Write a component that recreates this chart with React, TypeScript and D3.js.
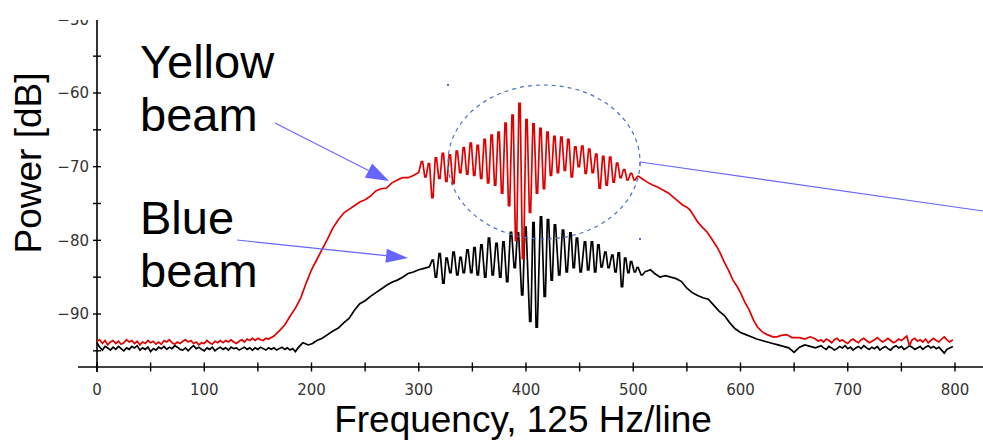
import React from 'react';
import * as d3 from 'd3';

type Pt = [number, number];

// Axis ticks
const X_TICKS = [0, 100, 200, 300, 400, 500, 600, 700, 800];
const X_MINOR = [50, 150, 250, 350, 450, 550, 650, 750];
const Y_TICKS = [-50, -60, -70, -80, -90];
const Y_MINOR = [-55, -65, -75, -85, -95];

// Red ("Yellow beam") spectrum, [frequency line, dB]
const redFloorLeft: Pt[] = [
  [0, -93.7], [2.5, -93.5], [5, -94.0], [7.5, -93.6], [10, -94.2], [12.5, -93.8], [15, -93.6], [17.5, -94.0],
  [20, -93.7], [22.5, -94.1], [25, -93.9], [27.5, -93.5], [30, -93.8], [32.5, -93.6], [35, -94.0], [37.5, -93.7],
  [40, -94.2], [42.5, -93.8], [45, -94.0], [47.5, -93.6], [50, -93.9], [52.5, -93.7], [55, -94.1], [57.5, -93.8],
  [60, -94.1], [62.5, -93.6], [65, -93.8], [67.5, -93.5], [70, -93.9], [72.5, -94.1], [75, -93.8], [77.5, -94.0],
  [80, -93.7], [82.5, -93.5], [85, -93.8], [87.5, -93.6], [90, -94.0], [92.5, -93.8], [95, -94.2], [97.5, -93.9],
  [100, -94.0], [102.5, -93.6], [105, -93.9], [107.5, -94.1], [110, -93.7], [112.5, -93.9], [115, -93.6],
  [117.5, -93.9], [120, -93.6], [122.5, -93.8], [125, -93.5], [127.5, -93.8], [130, -94.0], [132.5, -93.7],
  [135, -93.5], [137.5, -93.8], [140, -93.4], [142.5, -93.6], [145, -93.3], [147.5, -93.6], [150, -93.3],
  [152.5, -93.5], [155, -93.6], [157.5, -93.3],
];
const redRise: Pt[] = [
  [160, -93.4], [165, -93.0], [170, -92.3], [175, -91.5], [180, -90.3], [185, -89.2], [190, -87.8],
  [195, -85.8], [200, -84.0], [205, -82.6], [210, -81.2], [215, -79.8], [220, -78.3], [225, -77.2],
  [230, -76.3], [235, -75.8], [240, -75.3], [245, -74.8], [250, -74.5], [255, -74.0], [260, -73.3],
  [265, -73.0], [270, -72.9], [275, -72.2], [280, -71.8], [285, -71.5], [290, -71.5], [295, -71.2], [300, -70.8],
];
const redOsc: Pt[] = [
  [303, -69.3], [306.25, -71.4], [309.5, -69.6], [312.75, -74.2], [316, -68.8], [319.25, -71.6],
  [322.5, -68.2], [325.75, -72.0], [329, -68.4], [332.25, -72.3], [335.5, -67.9], [338.75, -70.8],
  [342, -67.4], [345.25, -71.0], [348.5, -66.8], [351.75, -71.2], [355, -67.1], [358.25, -71.6],
  [361.5, -66.3], [364.75, -72.2], [368, -65.7], [371.25, -72.5], [374.5, -65.3], [377.75, -73.6],
  [381, -64.1], [384.25, -75.3], [387.5, -63.0], [390.75, -80.0], [394, -61.4], [397.25, -82.5],
  [400.5, -63.6], [403.75, -76.2], [407, -64.2], [410.25, -73.6], [413.5, -64.8], [416.75, -73.0],
  [420, -65.3], [423.25, -71.2], [426.5, -65.9], [429.75, -70.8], [433, -66.0], [436.25, -70.5],
  [439.5, -66.3], [442.75, -71.4], [446, -67.3], [449.25, -70.0], [452.5, -67.2], [455.75, -70.9],
  [459, -67.6], [462.25, -70.8], [465.5, -68.3], [468.75, -72.9], [472, -68.6], [475.25, -72.5],
  [478.5, -68.7], [481.75, -72.1], [485, -69.5], [488.25, -71.5], [491.5, -70.4], [494.75, -71.8],
  [498, -70.9], [501.25, -71.8], [504.5, -71.3],
];
const redFall: Pt[] = [
  [508, -71.6], [513, -72.1], [518, -72.5], [523, -72.8], [528, -73.2], [533, -73.6], [537, -74.1],
  [542, -74.7], [546, -75.2], [550, -75.5], [553, -75.9], [557, -76.8], [560, -77.5], [565, -78.3],
  [569, -78.9], [574, -80.0], [578, -80.9], [581, -81.7], [585, -83.0], [589, -84.1], [593, -85.4],
  [597, -86.3], [600, -87.1], [604, -88.4], [608, -89.4], [612, -90.8], [616, -91.8], [620, -92.4],
  [625, -92.8], [630, -93.1], [634, -93.1], [638, -92.9], [643, -92.8], [648, -93.2], [655, -93.2],
  [660, -93.4], [665, -93.1],
];
const redFloorRight: Pt[] = [
  [670, -93.4], [672.5, -93.7], [675, -93.5], [677.5, -93.8], [680, -93.4], [682.5, -93.6], [685, -93.9],
  [687.5, -93.5], [690, -93.3], [692.5, -93.7], [695, -93.5], [697.5, -93.8], [700, -94.0], [702.5, -93.6],
  [705, -93.4], [707.5, -93.7], [710, -93.9], [712.5, -93.5], [715, -93.3], [717.5, -93.6], [720, -93.9],
  [722.5, -93.7], [725, -93.5], [727.5, -93.2], [730, -93.5], [732.5, -93.8], [735, -93.6], [737.5, -93.3],
  [740, -93.6], [742.5, -93.9], [745, -93.7], [747.5, -93.4], [750, -93.6], [752.5, -93.3], [755, -93.0],
  [757.5, -94.3], [760, -93.5], [762.5, -93.3], [765, -93.7], [767.5, -93.5], [770, -93.8], [772.5, -93.4],
  [775, -93.9], [777.5, -93.6], [780, -93.3], [782.5, -93.6], [785, -93.8], [787.5, -93.4], [790, -93.1],
  [792.5, -93.5], [795, -93.8], [798, -93.5],
];

// Black ("Blue beam") spectrum
const blackFloorLeft: Pt[] = [
  [0, -93.9], [2.5, -94.5], [5, -94.9], [7.5, -94.4], [10, -94.6], [12.5, -94.9], [15, -94.5], [17.5, -94.8],
  [20, -94.4], [22.5, -94.7], [25, -95.0], [27.5, -94.6], [30, -94.8], [32.5, -94.4], [35, -94.6], [37.5, -94.3],
  [40, -94.9], [42.5, -94.6], [45, -94.8], [47.5, -94.5], [50, -95.1], [52.5, -94.7], [55, -94.9], [57.5, -94.5],
  [60, -94.7], [62.5, -94.4], [65, -94.8], [67.5, -94.5], [70, -94.7], [72.5, -94.3], [75, -94.5], [77.5, -94.8],
  [80, -94.9], [82.5, -94.6], [85, -95.0], [87.5, -94.6], [90, -94.3], [92.5, -94.7], [95, -94.5], [97.5, -94.8],
  [100, -95.0], [102.5, -94.6], [105, -94.8], [107.5, -94.5], [110, -95.0], [112.5, -94.7], [115, -94.5],
  [117.5, -94.8], [120, -94.6], [122.5, -94.9], [125, -94.5], [127.5, -94.7], [130, -94.6], [132.5, -94.9],
  [135, -94.7], [137.5, -94.5], [140, -94.8], [142.5, -94.6], [145, -94.9], [147.5, -94.6], [150, -94.8],
  [152.5, -94.5], [155, -94.7], [157.5, -94.9], [160, -94.6], [162.5, -94.8], [165, -94.6], [167.5, -94.9],
  [170, -94.7], [172.5, -94.5], [175, -94.8], [177.5, -94.6], [180, -94.9], [182.5, -94.7], [185, -95.1],
  [187.5, -94.6], [190, -94.2],
];
const blackRise: Pt[] = [
  [192, -93.9], [197, -94.2], [201, -94.0], [205, -93.6], [210, -93.3], [215, -92.8], [220, -92.3],
  [225, -91.9], [230, -91.2], [235, -90.6], [240, -89.5], [245, -88.6], [250, -88.2], [255, -87.6],
  [260, -87.1], [265, -86.6], [270, -86.1], [275, -85.7], [280, -85.4], [285, -85.0], [290, -84.5],
  [295, -84.3], [300, -84.0], [305, -83.8], [310, -83.6],
];
const blackOsc: Pt[] = [
  [313, -82.7], [316, -85.0], [319.5, -81.8], [323, -85.8], [326, -82.4], [329.5, -84.4], [332.5, -81.6],
  [336, -84.7], [339, -82.3], [342, -84.4], [345.5, -81.3], [349, -84.4], [352, -81.0], [355, -84.7],
  [358.5, -80.6], [362, -85.0], [365.5, -79.7], [369, -84.7], [372.5, -80.4], [376, -85.0], [379, -80.2],
  [382.5, -85.6], [386, -78.9], [389.5, -83.7], [392.5, -79.0], [396.5, -87.4], [399.5, -78.2],
  [404, -91.0], [407, -77.6], [410, -91.8], [414, -76.8], [417.5, -87.6], [420.5, -77.2], [424, -85.4],
  [427, -77.9], [431, -84.7], [434.5, -78.6], [438, -84.3], [441.5, -79.0], [444.5, -83.7], [447.5, -79.7],
  [451, -84.3], [455, -80.2], [458, -84.0], [461.5, -80.2], [464.5, -84.3], [467.5, -80.6], [470.5, -83.6],
  [474, -81.6], [477, -83.7], [480.5, -82.0], [483.5, -84.3], [486.5, -81.7], [489.5, -86.3], [492.5, -82.4],
  [495.5, -84.4], [498, -82.9], [501.5, -84.3], [504, -83.7], [508, -84.7], [512, -84.2],
];
const blackFall: Pt[] = [
  [516, -84.0], [520, -84.5], [525, -85.0], [530, -84.8], [535, -85.0], [540, -85.2], [545, -85.6],
  [550, -86.5], [555, -87.1], [560, -87.5], [565, -87.8], [570, -88.0], [575, -88.8], [580, -89.6],
  [585, -90.2], [590, -91.2], [595, -92.0], [600, -92.5], [605, -92.8], [610, -93.1], [615, -93.4],
  [620, -93.6], [625, -93.8], [630, -94.0], [635, -94.2], [640, -94.4], [645, -94.6], [650, -95.2],
  [655, -94.5], [660, -94.2], [665, -94.4], [670, -94.6],
];
const blackFloorRight: Pt[] = [
  [675, -94.3], [677.5, -94.6], [680, -94.8], [682.5, -94.4], [685, -94.6], [687.5, -94.9], [690, -94.7],
  [692.5, -94.4], [695, -94.6], [697.5, -94.3], [700, -94.7], [702.5, -94.5], [705, -94.9], [707.5, -94.6],
  [710, -94.4], [712.5, -94.7], [715, -94.3], [717.5, -94.6], [720, -94.8], [722.5, -94.5], [725, -94.7],
  [727.5, -94.4], [730, -94.9], [732.5, -94.6], [735, -94.4], [737.5, -94.7], [740, -94.9], [742.5, -94.5],
  [745, -94.3], [747.5, -94.6], [750, -94.4], [752.5, -94.8], [755, -94.6], [757.5, -94.3], [760, -94.5],
  [762.5, -94.8], [765, -94.6], [767.5, -94.4], [770, -94.8], [772.5, -94.5], [775, -94.3], [777.5, -94.6],
  [780, -94.4], [782.5, -94.7], [785, -94.5], [787.5, -94.9], [790, -95.3], [792.5, -94.8], [795, -94.6],
  [798, -94.4],
];

const W = 983;
const H = 440;
const ANNOT = '#6666ff';
const ELLIPSE = '#4a72c0';

function arrowHead(x1: number, y1: number, x2: number, y2: number, len: number, half: number) {
  const dx = x2 - x1, dy = y2 - y1;
  const d = Math.hypot(dx, dy);
  const ux = dx / d, uy = dy / d;
  const bx = x2 - ux * len, by = y2 - uy * len;
  const nx = -uy, ny = ux;
  return {
    bx, by,
    pts: `${x2},${y2} ${bx + nx * half},${by + ny * half} ${bx - nx * half},${by - ny * half}`,
  };
}

function Spectrum({ left, rise, osc, fall, right, color, x, y }: {
  left: Pt[]; rise: Pt[]; osc: Pt[]; fall: Pt[]; right: Pt[]; color: string;
  x: d3.ScaleLinear<number, number>; y: d3.ScaleLinear<number, number>;
}) {
  const line = d3.line<Pt>().x(d => x(d[0])).y(d => y(d[1]));
  // each oscillation extreme is held for about one spectral line
  const held: Pt[] = osc.flatMap(d => [[d[0] - 0.6, d[1]], [d[0] + 0.6, d[1]]] as Pt[]);
  const all: Pt[] = [...left, ...rise, ...held, ...fall, ...right];
  return (
    <path d={line(all) || ''} fill="none" stroke={color} strokeWidth={1.7}
      strokeLinejoin="miter" strokeMiterlimit={2} />
  );
}

export default function App() {
  const x = d3.scaleLinear().domain([0, 800]).range([97, 955]);
  const y = d3.scaleLinear().domain([-60, -90]).range([93, 314]);
  const axisY = 367;
  const axisX = 97;

  const a1 = arrowHead(275, 123, 389, 181, 23, 8);
  const a2 = arrowHead(237, 240, 408, 258, 22, 7);

  return (
    <svg width={W} height={H} style={{ position: 'absolute', left: 0, top: 0, background: '#fff' }}
      fontFamily="'Liberation Sans', Arial, sans-serif">
      <defs>
        <clipPath id="plotTop"><rect x={0} y={20} width={W} height={H} /></clipPath>
      </defs>
      <rect x={0} y={0} width={W} height={H} fill="#fff" />
      <g clipPath="url(#plotTop)">
        <line x1={axisX} y1={0} x2={axisX} y2={axisY + 5} stroke="#000" strokeWidth={1.6} />
        {[...Y_TICKS, ...Y_MINOR].map(v => (
          <line key={'yt' + v} x1={axisX - 4} x2={axisX + 4} y1={y(v)} y2={y(v)} stroke="#000" strokeWidth={1.4} />
        ))}
        {Y_TICKS.map(v => (
          <text key={'yl' + v} x={axisX - 8} y={y(v)} dy="0.36em" textAnchor="end"
            fontFamily="'DejaVu Sans', sans-serif" fontSize={15} fill="#333">{d3.format('')(v)}</text>
        ))}
      </g>
      <line x1={78} y1={axisY} x2={W} y2={axisY} stroke="#000" strokeWidth={1.6} />
      {[...X_TICKS, ...X_MINOR].map(v => (
        <line key={'xt' + v} x1={x(v)} x2={x(v)} y1={axisY - 4.5} y2={axisY + 4.5} stroke="#000" strokeWidth={1.4} />
      ))}
      {X_TICKS.map(v => (
        <text key={'xl' + v} x={x(v)} y={395} textAnchor="middle"
          fontFamily="'DejaVu Sans', sans-serif" fontSize={15} fill="#333">{v}</text>
      ))}

      <Spectrum left={blackFloorLeft} rise={blackRise} osc={blackOsc} fall={blackFall} right={blackFloorRight}
        color="#000" x={x} y={y} />
      <Spectrum left={redFloorLeft} rise={redRise} osc={redOsc} fall={redFall} right={redFloorRight}
        color="#e00000" x={x} y={y} />

      <text x={523} y={432} textAnchor="middle" fontSize={37} fill="#000">Frequency, 125 Hz/line</text>
      <text transform="translate(41,163) rotate(-90)" textAnchor="middle" fontSize={37} fill="#000">Power [dB]</text>

      <text x={140} y={78} fontSize={47} fill="#000">Yellow</text>
      <text x={140} y={131} fontSize={47} fill="#000">beam</text>
      <text x={140} y={234} fontSize={47} fill="#000">Blue</text>
      <text x={140} y={287} fontSize={47} fill="#000">beam</text>

      <line x1={275} y1={123} x2={a1.bx} y2={a1.by} stroke={ANNOT} strokeWidth={1.2} />
      <polygon points={a1.pts} fill={ANNOT} />
      <line x1={237} y1={240} x2={a2.bx} y2={a2.by} stroke={ANNOT} strokeWidth={1.2} />
      <polygon points={a2.pts} fill={ANNOT} />

      <ellipse cx={544} cy={162} rx={96} ry={77} fill="none" stroke={ELLIPSE} strokeWidth={1.2} strokeDasharray="4 4" />
      <rect x={447} y={84} width={2} height={2} fill={ELLIPSE} />
      <rect x={639} y={238} width={2} height={2} fill={ELLIPSE} />
      <line x1={640} y1={162} x2={640} y2={166} stroke={ANNOT} strokeWidth={1.2} />
      <line x1={640} y1={162} x2={983} y2={211} stroke={ANNOT} strokeWidth={1.2} />
    </svg>
  );
}
